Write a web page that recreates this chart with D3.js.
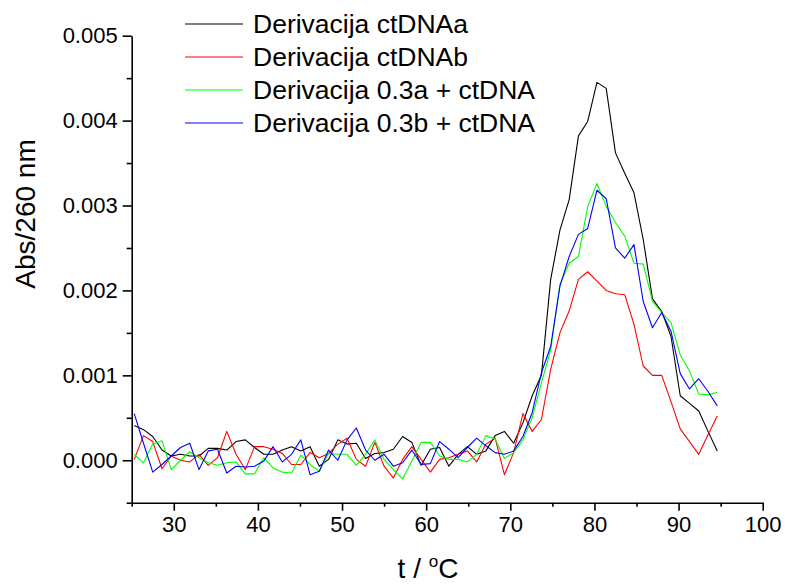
<!DOCTYPE html>
<html>
<head>
<meta charset="utf-8">
<script src="https://cdn.jsdelivr.net/npm/d3@7"></script>
<style>
  html, body { margin: 0; padding: 0; background: #fff; }
  svg { display: block; font-family: "Liberation Sans", Arial, sans-serif; }
</style>
</head>
<body>
<svg id="chart" width="785" height="585"></svg>
<script>
// ---- data ----
const temps = [25.3,26.4,27.5,28.6,29.7,30.8,31.9,33.0,34.1,35.2,36.3,37.4,38.5,39.6,40.7,41.8,42.9,44.0,45.1,46.2,
  47.3,48.4,49.5,50.6,51.7,52.8,53.9,55.0,56.1,57.2,58.3,59.4,60.5,61.6,62.7,63.8,64.9,66.0,67.1,68.2,
  69.3,70.4,71.5,72.6,73.7,74.8,75.9,77.0,78.1,79.2,80.3,81.4,82.5,83.6,84.7,85.8,86.9,88.0,89.1,90.2,
  91.3,92.4,93.5,94.6];

const ctDNAa = [0.00041,0.00036,0.00028,0.00012,0.00005,0.00007,0.00005,0.00005,0.00014,0.00014,
  0.00012,0.00022,0.00024,0.00015,0.00007,0.00007,0.00012,0.00016,0.00011,0.00016,
  -0.00007,0.00001,0.00024,0.00019,0.00020,0.00002,0.00008,0.00009,0.00013,0.00028,
  0.00021,-0.00006,0.00013,0.00015,-0.00007,0.00007,0.00016,0.00007,0.00011,0.00029,
  0.00034,0.00020,0.00044,0.00076,0.00100,0.00213,0.00271,0.00307,0.00382,0.00399,
  0.00445,0.00438,0.00362,0.00338,0.00315,0.00260,0.00190,0.00175,0.00146,0.00076,
  0.00067,0.00058,0.00034,0.00011];

const ctDNAb = [0.00001,0.00029,0.00022,-0.00010,0.00005,0.00000,-0.00002,0.00007,-0.00006,0.00003,
  0.00034,0.00007,-0.00011,0.00016,0.00016,0.00013,0.00008,-0.00005,-0.00005,0.00009,
  0.00003,0.00008,0.00019,0.00026,0.00001,-0.00007,0.00021,-0.00007,-0.00021,0.00001,
  0.00016,0.00001,-0.00014,0.00001,0.00003,0.00007,0.00011,-0.00002,0.00019,0.00026,
  -0.00017,0.00009,0.00055,0.00034,0.00048,0.00107,0.00150,0.00176,0.00213,0.00222,
  0.00211,0.00200,0.00196,0.00195,0.00160,0.00111,0.00100,0.00100,0.00069,0.00037,
  0.00022,0.00007,0.00030,0.00052];

const d03a = [0.00007,-0.00003,0.00019,0.00023,-0.00011,0.00000,0.00010,0.00003,-0.00003,-0.00006,
  -0.00003,-0.00002,-0.00016,-0.00016,0.00003,-0.00009,-0.00014,-0.00015,0.00006,-0.00005,
  -0.00013,0.00008,0.00007,0.00007,-0.00006,0.00007,0.00024,0.00001,-0.00011,-0.00022,
  -0.00001,0.00021,0.00021,0.00005,0.00001,0.00001,-0.00002,0.00007,0.00029,0.00025,
  0.00002,0.00009,0.00024,0.00050,0.00091,0.00130,0.00207,0.00232,0.00240,0.00299,
  0.00326,0.00299,0.00280,0.00264,0.00232,0.00231,0.00187,0.00174,0.00162,0.00124,
  0.00105,0.00078,0.00077,0.00080];

const d03b = [0.00055,0.00020,-0.00014,-0.00005,0.00005,0.00015,0.00020,-0.00011,0.00011,0.00013,
  -0.00015,-0.00007,-0.00008,-0.00007,-0.00001,0.00016,-0.00002,0.00007,0.00024,-0.00017,
  -0.00013,0.00012,0.00000,0.00024,0.00038,0.00012,0.00000,0.00007,-0.00007,-0.00003,
  0.00012,-0.00005,-0.00004,0.00022,0.00013,0.00003,0.00015,0.00026,0.00017,0.00009,
  0.00007,0.00011,0.00028,0.00056,0.00103,0.00134,0.00205,0.00240,0.00266,0.00273,
  0.00318,0.00308,0.00250,0.00238,0.00254,0.00187,0.00156,0.00174,0.00152,0.00102,
  0.00084,0.00096,0.00081,0.00064];

const seriesNames = ["Derivacija ctDNAa", "Derivacija ctDNAb", "Derivacija 0.3a + ctDNA", "Derivacija 0.3b + ctDNA"];
const seriesColors = ["#000000", "#ff0000", "#00ff00", "#0000ff"];
const seriesValues = [ctDNAa, ctDNAb, d03a, d03b];

const xMajorTicks = [30, 40, 50, 60, 70, 80, 90, 100];
const xMinorTicks = [25, 35, 45, 55, 65, 75, 85, 95];
const yMajorTicks = [0, 0.001, 0.002, 0.003, 0.004, 0.005];
const yMinorTicks = [-0.0005, 0.0005, 0.0015, 0.0025, 0.0035, 0.0045];

// ---- layout ----
const svg = d3.select("#chart");
const L = 131.7, R = 762.7, T = 35.7, B = 502.7;
const x = d3.scaleLinear().domain([25, 100]).range([L, R]);
const y = d3.scaleLinear().domain([-0.0005, 0.005]).range([B, T]);

svg.append("defs").append("clipPath").attr("id", "clip")
  .append("rect").attr("x", L).attr("y", T).attr("width", R - L).attr("height", B - T);

// lines
const line = d3.line().x((d, i) => x(temps[i])).y(d => y(d));
const lg = svg.append("g").attr("clip-path", "url(#clip)");
seriesValues.forEach((vals, si) => {
  lg.append("path").datum(vals)
    .attr("d", line)
    .attr("fill", "none")
    .attr("stroke", seriesColors[si])
    .attr("stroke-width", 1.1)
    .attr("stroke-linejoin", "round");
});

// axes
const fmtY = d3.format(".3f");
svg.append("g").attr("transform", `translate(0,${B})`)
  .call(d3.axisBottom(x).tickValues(xMajorTicks).tickSize(8).tickSizeOuter(0).tickPadding(6).tickFormat(d3.format("d")));
svg.append("g").attr("transform", `translate(0,${B})`)
  .call(d3.axisBottom(x).tickValues(xMinorTicks).tickSize(4).tickSizeOuter(0).tickFormat(""))
  .select(".domain").remove();
svg.append("g").attr("transform", `translate(${L},0)`)
  .call(d3.axisLeft(y).tickValues(yMajorTicks).tickSize(9).tickSizeOuter(0).tickPadding(5).tickFormat(fmtY));
svg.append("g").attr("transform", `translate(${L},0)`)
  .call(d3.axisLeft(y).tickValues(yMinorTicks).tickSize(5).tickSizeOuter(0).tickFormat(""))
  .select(".domain").remove();

svg.selectAll(".domain").attr("stroke", "#000").attr("stroke-width", 1.6);
svg.selectAll(".tick line").attr("stroke", "#000").attr("stroke-width", 1.6);
svg.selectAll(".tick text").attr("fill", "#000").style("font-size", "22px")
  .style("font-family", '"Liberation Sans", Arial, sans-serif');

// axis titles
svg.append("text")
  .attr("transform", "translate(35,214) rotate(-90)")
  .attr("text-anchor", "middle")
  .style("font-size", "28px")
  .text("Abs/260 nm");

const xt = svg.append("text")
  .attr("x", 428).attr("y", 578)
  .attr("text-anchor", "middle")
  .style("font-size", "28px");
xt.append("tspan").text("t / ");
xt.append("tspan").attr("dy", -11).style("font-size", "17px").text("o");
xt.append("tspan").attr("dy", 11).text("C");

// legend
const legY = [24, 57, 90, 123];
seriesNames.forEach((name, i) => {
  svg.append("line")
    .attr("x1", 185).attr("x2", 243)
    .attr("y1", legY[i]).attr("y2", legY[i])
    .attr("stroke", seriesColors[i]).attr("stroke-width", 1.1);
  svg.append("text")
    .attr("x", 253).attr("y", legY[i] + 9)
    .style("font-size", "26.5px")
    .text(name);
});
</script>
</body>
</html>
